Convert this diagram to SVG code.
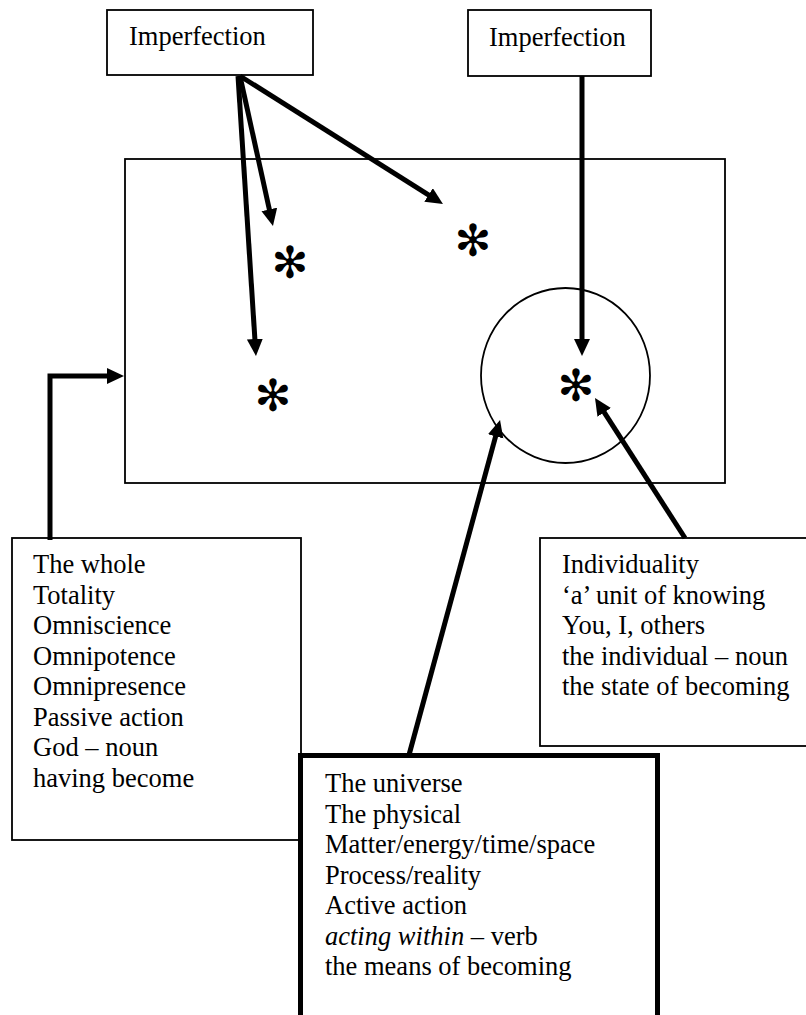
<svg xmlns="http://www.w3.org/2000/svg" width="806" height="1015" viewBox="0 0 806 1015">
<style>
.box{fill:#fff;stroke:#000;stroke-width:1.8}
.thick{fill:#fff;stroke:#000;stroke-width:5}
.t{font-family:"Liberation Serif","Times New Roman",serif;font-size:26.5px;fill:#000}
.ast{font-family:"DejaVu Sans",sans-serif;font-size:44px;fill:#000;text-anchor:middle}
.arr{fill:none;stroke:#000;stroke-width:5;marker-end:url(#ah)}
</style>
<defs>
<marker id="ah" markerUnits="userSpaceOnUse" markerWidth="20" markerHeight="18" refX="5" refY="8" orient="auto">
<path d="M0,0 L17,8 L0,16 z" fill="#000"/>
</marker>
</defs>
<rect width="806" height="1015" fill="#fff"/>
<g id="universe-frame">
<rect class="box" x="125" y="159" width="600" height="324"/>
<ellipse class="box" cx="565.5" cy="375.5" rx="84.5" ry="87.5" fill="none"/>
</g>
<g id="stars">
<text class="ast" x="290" y="278">✻</text>
<text class="ast" x="473" y="256">✻</text>
<text class="ast" x="273" y="411">✻</text>
<text class="ast" x="576" y="401">✻</text>
</g>
<g id="imperfection-left">
<rect class="box" x="107" y="10" width="206" height="65"/>
<text class="t" x="129" y="45">Imperfection</text>
</g>
<g id="imperfection-right">
<rect class="box" x="468" y="10" width="183" height="66"/>
<text class="t" x="489" y="46">Imperfection</text>
</g>
<g id="whole">
<rect class="box" x="12" y="538" width="289" height="302"/>
<text class="t" x="33" y="573">The whole</text>
<text class="t" x="33" y="603.5">Totality</text>
<text class="t" x="33" y="634">Omniscience</text>
<text class="t" x="33" y="664.5">Omnipotence</text>
<text class="t" x="33" y="695">Omnipresence</text>
<text class="t" x="33" y="725.5">Passive action</text>
<text class="t" x="33" y="756">God – noun</text>
<text class="t" x="33" y="786.5">having become</text>
</g>
<g id="individuality">
<rect class="box" x="540" y="538" width="270" height="208"/>
<text class="t" x="562" y="573">Individuality</text>
<text class="t" x="562" y="603.5">‘a’ unit of knowing</text>
<text class="t" x="562" y="634">You, I, others</text>
<text class="t" x="562" y="664.5">the individual – noun</text>
<text class="t" x="562" y="695">the state of becoming</text>
</g>
<g id="universe">
<rect class="thick" x="300.5" y="755.5" width="357" height="280"/>
<text class="t" x="325" y="792">The universe</text>
<text class="t" x="325" y="822.5">The physical</text>
<text class="t" x="325" y="853">Matter/energy/time/space</text>
<text class="t" x="325" y="883.5">Process/reality</text>
<text class="t" x="325" y="914">Active action</text>
<text class="t" x="325" y="944.5"><tspan font-style="italic">acting within</tspan> – verb</text>
<text class="t" x="325" y="975">the means of becoming</text>
</g>
<g id="connectors">
<line class="arr" x1="240" y1="76" x2="270.4" y2="214.3"/>
<line class="arr" x1="240" y1="76" x2="432.8" y2="197.6"/>
<line class="arr" x1="238" y1="76" x2="255.2" y2="344"/>
<line class="arr" x1="582" y1="76" x2="582" y2="344"/>
<polyline class="arr" points="50,540 50,376 112,376"/>
<line class="arr" x1="409" y1="755" x2="496.9" y2="431.6"/>
<line class="arr" x1="685" y1="538" x2="601.5" y2="408.1"/>
</g>
</svg>
